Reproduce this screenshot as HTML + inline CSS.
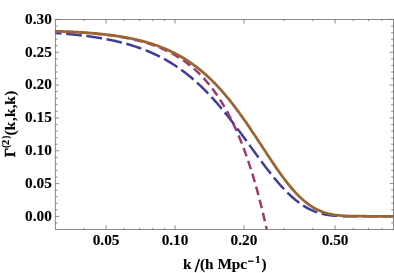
<!DOCTYPE html>
<html><head><meta charset="utf-8"><title>plot</title>
<style>
html,body{margin:0;padding:0;background:#fff;}
body{width:394px;height:273px;overflow:hidden;}
svg{display:block;}
text{font-family:"Liberation Serif",serif;font-weight:bold;font-size:15.3px;fill:#000;stroke:#000;stroke-width:0.12px;}
</style></head>
<body>
<svg width="394" height="273" viewBox="0 0 394 273">
<rect x="0" y="0" width="394" height="273" fill="#fff"/>
<defs><clipPath id="c"><rect x="55.3" y="19.5" width="338.20" height="209.90"/></clipPath></defs>
<g clip-path="url(#c)" transform="translate(0,0.25)" fill="none" stroke-width="2.5" stroke-linecap="butt" stroke-linejoin="round">
<path d="M54.00,32.66 L54.85,32.72 L55.70,32.78 L56.55,32.84 L57.40,32.91 L58.25,32.97 L59.10,33.03 L59.95,33.10 L60.80,33.17 L61.65,33.23 L62.50,33.30 L63.35,33.37 L64.21,33.44 L65.06,33.51 L65.91,33.59 L66.76,33.66 L67.61,33.74 L68.46,33.81 L69.31,33.89 L70.16,33.97 L71.01,34.05 L71.86,34.13 L72.71,34.22 L73.56,34.30 L74.41,34.39 L75.26,34.48 L76.11,34.57 L76.96,34.66 L77.81,34.75 L78.66,34.84 L79.51,34.94 L80.36,35.04 L81.21,35.14 L82.06,35.24 L82.91,35.34 L83.76,35.44 L84.62,35.55 L85.47,35.65 L86.32,35.76 L87.17,35.87 L88.02,35.99 L88.87,36.10 L89.72,36.22 L90.57,36.34 L91.42,36.46 L92.27,36.58 L93.12,36.70 L93.97,36.83 L94.82,36.96 L95.67,37.09 L96.52,37.22 L97.37,37.36 L98.22,37.50 L99.07,37.64 L99.92,37.78 L100.77,37.92 L101.62,38.07 L102.47,38.22 L103.32,38.37 L104.18,38.52 L105.03,38.68 L105.88,38.84 L106.73,39.00 L107.58,39.17 L108.43,39.33 L109.28,39.50 L110.13,39.68 L110.98,39.85 L111.83,40.03 L112.68,40.21 L113.53,40.39 L114.38,40.58 L115.23,40.77 L116.08,40.97 L116.93,41.16 L117.78,41.36 L118.63,41.57 L119.48,41.77 L120.33,41.98 L121.18,42.19 L122.03,42.41 L122.88,42.63 L123.73,42.86 L124.59,43.08 L125.44,43.31 L126.29,43.55 L127.14,43.79 L127.99,44.03 L128.84,44.27 L129.69,44.52 L130.54,44.78 L131.39,45.04 L132.24,45.30 L133.09,45.57 L133.94,45.84 L134.79,46.11 L135.64,46.39 L136.49,46.67 L137.34,46.96 L138.19,47.25 L139.04,47.55 L139.89,47.85 L140.74,48.16 L141.59,48.47 L142.44,48.79 L143.29,49.11 L144.15,49.44 L145.00,49.77 L145.85,50.10 L146.70,50.44 L147.55,50.79 L148.40,51.14 L149.25,51.50 L150.10,51.86 L150.95,52.23 L151.80,52.61 L152.65,52.99 L153.50,53.37 L154.35,53.76 L155.20,54.16 L156.05,54.56 L156.90,54.97 L157.75,55.39 L158.60,55.81 L159.45,56.24 L160.30,56.67 L161.15,57.11 L162.00,57.56 L162.85,58.01 L163.70,58.47 L164.56,58.94 L165.41,59.41 L166.26,59.89 L167.11,60.37 L167.96,60.87 L168.81,61.37 L169.66,61.88 L170.51,62.39 L171.36,62.91 L172.21,63.44 L173.06,63.98 L173.91,64.52 L174.76,65.08 L175.61,65.64 L176.46,66.20 L177.31,66.78 L178.16,67.36 L179.01,67.95 L179.86,68.55 L180.71,69.15 L181.56,69.77 L182.41,70.39 L183.26,71.02 L184.12,71.66 L184.97,72.30 L185.82,72.96 L186.67,73.62 L187.52,74.29 L188.37,74.97 L189.22,75.66 L190.07,76.36 L190.92,77.06 L191.77,77.78 L192.62,78.50 L193.47,79.23 L194.32,79.97 L195.17,80.72 L196.02,81.48 L196.87,82.24 L197.72,83.02 L198.57,83.80 L199.42,84.59 L200.27,85.39 L201.12,86.20 L201.97,87.02 L202.82,87.85 L203.67,88.69 L204.53,89.53 L205.38,90.39 L206.23,91.25 L207.08,92.12 L207.93,93.00 L208.78,93.89 L209.63,94.79 L210.48,95.70 L211.33,96.61 L212.18,97.54 L213.03,98.47 L213.88,99.41 L214.73,100.36 L215.58,101.32 L216.43,102.28 L217.28,103.26 L218.13,104.24 L218.98,105.23 L219.83,106.23 L220.68,107.23 L221.53,108.25 L222.38,109.27 L223.23,110.30 L224.09,111.34 L224.94,112.38 L225.79,113.43 L226.64,114.49 L227.49,115.56 L228.34,116.63 L229.19,117.71 L230.04,118.79 L230.89,119.88 L231.74,120.98 L232.59,122.08 L233.44,123.19 L234.29,124.30 L235.14,125.42 L235.99,126.55 L236.84,127.68 L237.69,128.81 L238.54,129.95 L239.39,131.09 L240.24,132.23 L241.09,133.38 L241.94,134.54 L242.79,135.69 L243.64,136.85 L244.50,138.01 L245.35,139.18 L246.20,140.34 L247.05,141.51 L247.90,142.68 L248.75,143.85 L249.60,145.02 L250.45,146.19 L251.30,147.36 L252.15,148.53 L253.00,149.70 L253.85,150.87 L254.70,152.04 L255.55,153.20 L256.40,154.37 L257.25,155.53 L258.10,156.69 L258.95,157.85 L259.80,159.00 L260.65,160.15 L261.50,161.29 L262.35,162.43 L263.20,163.57 L264.06,164.70 L264.91,165.83 L265.76,166.95 L266.61,168.06 L267.46,169.16 L268.31,170.26 L269.16,171.36 L270.01,172.44 L270.86,173.52 L271.71,174.58 L272.56,175.64 L273.41,176.69 L274.26,177.73 L275.11,178.76 L275.96,179.78 L276.81,180.79 L277.66,181.79 L278.51,182.77 L279.36,183.75 L280.21,184.71 L281.06,185.66 L281.91,186.60 L282.76,187.52 L283.61,188.44 L284.47,189.33 L285.32,190.22 L286.17,191.09 L287.02,191.95 L287.87,192.79 L288.72,193.62 L289.57,194.43 L290.42,195.23 L291.27,196.01 L292.12,196.78 L292.97,197.53 L293.82,198.27 L294.67,198.99 L295.52,199.69 L296.37,200.38 L297.22,201.05 L298.07,201.71 L298.92,202.34 L299.77,202.97 L300.62,203.57 L301.47,204.16 L302.32,204.73 L303.17,205.29 L304.03,205.83 L304.88,206.35 L305.73,206.86 L306.58,207.35 L307.43,207.82 L308.28,208.28 L309.13,208.72 L309.98,209.14 L310.83,209.55 L311.68,209.94 L312.53,210.32 L313.38,210.68 L314.23,211.03 L315.08,211.36 L315.93,211.67 L316.78,211.98 L317.63,212.26 L318.48,212.54 L319.33,212.79 L320.18,213.04 L321.03,213.27 L321.88,213.49 L322.73,213.70 L323.58,213.89 L324.44,214.08 L325.29,214.25 L326.14,214.41 L326.99,214.56 L327.84,214.69 L328.69,214.82 L329.54,214.94 L330.39,215.05 L331.24,215.15 L332.09,215.25 L332.94,215.33 L333.79,215.41 L334.64,215.48 L335.49,215.54 L336.34,215.60 L337.19,215.65 L338.04,215.70 L338.89,215.74 L339.74,215.78 L340.59,215.81 L341.44,215.84 L342.29,215.86 L343.14,215.89 L343.99,215.91 L344.85,215.92 L345.70,215.94 L346.55,215.95 L347.40,215.96 L348.25,215.97 L349.10,215.97 L349.95,215.98 L350.80,215.98 L351.65,215.99 L352.50,215.99 L353.35,215.99 L354.20,215.99 L355.05,216.00 L355.90,216.00 L356.75,216.00 L357.60,216.00 L358.45,216.00 L359.30,216.00 L360.15,216.00 L361.00,216.00 L361.85,216.00 L362.70,216.00 L363.55,216.00 L364.41,216.00 L365.26,216.00 L366.11,216.00 L366.96,216.00 L367.81,216.00 L368.66,216.00 L369.51,216.00 L370.36,216.00 L371.21,216.00 L372.06,216.00 L372.91,216.00 L373.76,216.00 L374.61,216.00 L375.46,216.00 L376.31,216.00 L377.16,216.00 L378.01,216.00 L378.86,216.00 L379.71,216.00 L380.56,216.00 L381.41,216.00 L382.26,216.00 L383.11,216.00 L383.96,216.00 L384.82,216.00 L385.67,216.00 L386.52,216.00 L387.37,216.00 L388.22,216.00 L389.07,216.00 L389.92,216.00 L390.77,216.00 L391.62,216.00 L392.47,216.00 L393.32,216.00" stroke="#3f3d99" stroke-dasharray="15.7 4.66" stroke-dashoffset="8.14"/>
<path d="M54.00,31.09 L54.54,31.11 L55.08,31.13 L55.62,31.15 L56.16,31.16 L56.70,31.18 L57.24,31.20 L57.78,31.22 L58.32,31.23 L58.86,31.25 L59.40,31.27 L59.94,31.29 L60.48,31.31 L61.02,31.33 L61.56,31.35 L62.10,31.37 L62.64,31.39 L63.18,31.42 L63.72,31.44 L64.27,31.46 L64.81,31.48 L65.35,31.50 L65.89,31.53 L66.43,31.55 L66.97,31.57 L67.51,31.60 L68.05,31.62 L68.59,31.65 L69.13,31.67 L69.67,31.70 L70.21,31.72 L70.75,31.75 L71.29,31.78 L71.83,31.80 L72.37,31.83 L72.91,31.86 L73.45,31.89 L73.99,31.91 L74.53,31.94 L75.07,31.97 L75.61,32.00 L76.15,32.03 L76.69,32.06 L77.23,32.09 L77.77,32.13 L78.31,32.16 L78.85,32.19 L79.39,32.22 L79.93,32.26 L80.47,32.29 L81.01,32.33 L81.55,32.36 L82.09,32.40 L82.63,32.43 L83.17,32.47 L83.71,32.51 L84.26,32.54 L84.80,32.58 L85.34,32.62 L85.88,32.66 L86.42,32.70 L86.96,32.74 L87.50,32.78 L88.04,32.82 L88.58,32.86 L89.12,32.90 L89.66,32.95 L90.20,32.99 L90.74,33.03 L91.28,33.08 L91.82,33.12 L92.36,33.17 L92.90,33.22 L93.44,33.26 L93.98,33.31 L94.52,33.36 L95.06,33.41 L95.60,33.46 L96.14,33.51 L96.68,33.56 L97.22,33.61 L97.76,33.66 L98.30,33.72 L98.84,33.77 L99.38,33.83 L99.92,33.88 L100.46,33.94 L101.00,33.99 L101.54,34.05 L102.08,34.11 L102.62,34.17 L103.16,34.23 L103.70,34.29 L104.25,34.35 L104.79,34.41 L105.33,34.48 L105.87,34.54 L106.41,34.61 L106.95,34.67 L107.49,34.74 L108.03,34.81 L108.57,34.87 L109.11,34.94 L109.65,35.01 L110.19,35.08 L110.73,35.16 L111.27,35.23 L111.81,35.30 L112.35,35.38 L112.89,35.45 L113.43,35.53 L113.97,35.61 L114.51,35.69 L115.05,35.77 L115.59,35.85 L116.13,35.93 L116.67,36.01 L117.21,36.10 L117.75,36.18 L118.29,36.27 L118.83,36.35 L119.37,36.44 L119.91,36.53 L120.45,36.62 L120.99,36.71 L121.53,36.81 L122.07,36.90 L122.61,37.00 L123.15,37.09 L123.69,37.19 L124.24,37.29 L124.78,37.39 L125.32,37.49 L125.86,37.59 L126.40,37.70 L126.94,37.80 L127.48,37.91 L128.02,38.02 L128.56,38.13 L129.10,38.24 L129.64,38.35 L130.18,38.46 L130.72,38.58 L131.26,38.69 L131.80,38.81 L132.34,38.93 L132.88,39.05 L133.42,39.17 L133.96,39.30 L134.50,39.42 L135.04,39.55 L135.58,39.68 L136.12,39.81 L136.66,39.94 L137.20,40.07 L137.74,40.21 L138.28,40.34 L138.82,40.48 L139.36,40.62 L139.90,40.76 L140.44,40.91 L140.98,41.05 L141.52,41.20 L142.06,41.35 L142.60,41.50 L143.14,41.65 L143.68,41.81 L144.23,41.96 L144.77,42.12 L145.31,42.28 L145.85,42.44 L146.39,42.61 L146.93,42.77 L147.47,42.94 L148.01,43.11 L148.55,43.28 L149.09,43.46 L149.63,43.64 L150.17,43.81 L150.71,44.00 L151.25,44.18 L151.79,44.36 L152.33,44.55 L152.87,44.74 L153.41,44.93 L153.95,45.13 L154.49,45.33 L155.03,45.52 L155.57,45.73 L156.11,45.93 L156.65,46.14 L157.19,46.35 L157.73,46.56 L158.27,46.77 L158.81,46.99 L159.35,47.21 L159.89,47.43 L160.43,47.66 L160.97,47.88 L161.51,48.11 L162.05,48.35 L162.59,48.58 L163.13,48.82 L163.67,49.06 L164.22,49.31 L164.76,49.56 L165.30,49.81 L165.84,50.06 L166.38,50.32 L166.92,50.58 L167.46,50.84 L168.00,51.11 L168.54,51.37 L169.08,51.65 L169.62,51.92 L170.16,52.20 L170.70,52.48 L171.24,52.77 L171.78,53.06 L172.32,53.35 L172.86,53.65 L173.40,53.95 L173.94,54.25 L174.48,54.56 L175.02,54.87 L175.56,55.18 L176.10,55.50 L176.64,55.82 L177.18,56.15 L177.72,56.48 L178.26,56.81 L178.80,57.15 L179.34,57.49 L179.88,57.84 L180.42,58.19 L180.96,58.54 L181.50,58.90 L182.04,59.26 L182.58,59.63 L183.12,60.00 L183.66,60.38 L184.21,60.76 L184.75,61.14 L185.29,61.53 L185.83,61.93 L186.37,62.33 L186.91,62.73 L187.45,63.14 L187.99,63.55 L188.53,63.97 L189.07,64.39 L189.61,64.82 L190.15,65.26 L190.69,65.69 L191.23,66.14 L191.77,66.59 L192.31,67.04 L192.85,67.50 L193.39,67.97 L193.93,68.44 L194.47,68.92 L195.01,69.40 L195.55,69.89 L196.09,70.38 L196.63,70.88 L197.17,71.39 L197.71,71.90 L198.25,72.42 L198.79,72.94 L199.33,73.47 L199.87,74.01 L200.41,74.55 L200.95,75.10 L201.49,75.66 L202.03,76.22 L202.57,76.79 L203.11,77.37 L203.65,77.95 L204.20,78.54 L204.74,79.14 L205.28,79.75 L205.82,80.36 L206.36,80.98 L206.90,81.61 L207.44,82.24 L207.98,82.88 L208.52,83.53 L209.06,84.19 L209.60,84.85 L210.14,85.53 L210.68,86.21 L211.22,86.90 L211.76,87.60 L212.30,88.30 L212.84,89.02 L213.38,89.74 L213.92,90.47 L214.46,91.22 L215.00,91.97 L215.54,92.72 L216.08,93.49 L216.62,94.27 L217.16,95.06 L217.70,95.85 L218.24,96.66 L218.78,97.47 L219.32,98.30 L219.86,99.14 L220.40,99.98 L220.94,100.84 L221.48,101.70 L222.02,102.58 L222.56,103.47 L223.10,104.37 L223.64,105.27 L224.19,106.19 L224.73,107.13 L225.27,108.07 L225.81,109.02 L226.35,109.99 L226.89,110.96 L227.43,111.95 L227.97,112.95 L228.51,113.97 L229.05,114.99 L229.59,116.03 L230.13,117.08 L230.67,118.15 L231.21,119.22 L231.75,120.31 L232.29,121.42 L232.83,122.53 L233.37,123.66 L233.91,124.81 L234.45,125.97 L234.99,127.14 L235.53,128.33 L236.07,129.53 L236.61,130.75 L237.15,131.98 L237.69,133.22 L238.23,134.49 L238.77,135.76 L239.31,137.06 L239.85,138.37 L240.39,139.69 L240.93,141.03 L241.47,142.39 L242.01,143.77 L242.55,145.16 L243.09,146.57 L243.63,148.00 L244.18,149.44 L244.72,150.91 L245.26,152.39 L245.80,153.89 L246.34,155.41 L246.88,156.95 L247.42,158.50 L247.96,160.08 L248.50,161.68 L249.04,163.29 L249.58,164.93 L250.12,166.59 L250.66,168.27 L251.20,169.97 L251.74,171.69 L252.28,173.43 L252.82,175.20 L253.36,176.98 L253.90,178.79 L254.44,180.63 L254.98,182.48 L255.52,184.36 L256.06,186.27 L256.60,188.20 L257.14,190.15 L257.68,192.13 L258.22,194.13 L258.76,196.16 L259.30,198.21 L259.84,200.30 L260.38,202.40 L260.92,204.54 L261.46,206.70 L262.00,208.89 L262.54,211.11 L263.08,213.36 L263.62,215.64 L264.17,217.95 L264.71,220.28 L265.25,222.65 L265.79,225.05 L266.33,227.48 L266.87,229.94 L267.41,232.43 L267.95,234.96" stroke="#993d71" stroke-dasharray="8.7 4.82" stroke-dashoffset="0.86"/>
<path d="M54.00,30.94 L54.85,30.96 L55.70,30.99 L56.55,31.02 L57.40,31.05 L58.25,31.08 L59.10,31.11 L59.95,31.14 L60.80,31.17 L61.65,31.20 L62.50,31.23 L63.35,31.27 L64.21,31.30 L65.06,31.34 L65.91,31.37 L66.76,31.41 L67.61,31.45 L68.46,31.49 L69.31,31.53 L70.16,31.57 L71.01,31.61 L71.86,31.65 L72.71,31.69 L73.56,31.74 L74.41,31.78 L75.26,31.83 L76.11,31.87 L76.96,31.92 L77.81,31.97 L78.66,32.02 L79.51,32.07 L80.36,32.12 L81.21,32.18 L82.06,32.23 L82.91,32.29 L83.76,32.34 L84.62,32.40 L85.47,32.46 L86.32,32.52 L87.17,32.58 L88.02,32.64 L88.87,32.71 L89.72,32.77 L90.57,32.84 L91.42,32.91 L92.27,32.98 L93.12,33.05 L93.97,33.12 L94.82,33.20 L95.67,33.27 L96.52,33.35 L97.37,33.43 L98.22,33.51 L99.07,33.59 L99.92,33.68 L100.77,33.76 L101.62,33.85 L102.47,33.94 L103.32,34.03 L104.18,34.12 L105.03,34.22 L105.88,34.31 L106.73,34.41 L107.58,34.51 L108.43,34.62 L109.28,34.72 L110.13,34.83 L110.98,34.94 L111.83,35.05 L112.68,35.16 L113.53,35.28 L114.38,35.39 L115.23,35.51 L116.08,35.64 L116.93,35.76 L117.78,35.89 L118.63,36.02 L119.48,36.15 L120.33,36.29 L121.18,36.42 L122.03,36.57 L122.88,36.71 L123.73,36.85 L124.59,37.00 L125.44,37.15 L126.29,37.31 L127.14,37.47 L127.99,37.63 L128.84,37.79 L129.69,37.96 L130.54,38.13 L131.39,38.30 L132.24,38.48 L133.09,38.66 L133.94,38.84 L134.79,39.03 L135.64,39.22 L136.49,39.41 L137.34,39.61 L138.19,39.81 L139.04,40.02 L139.89,40.23 L140.74,40.44 L141.59,40.66 L142.44,40.88 L143.29,41.10 L144.15,41.33 L145.00,41.57 L145.85,41.80 L146.70,42.05 L147.55,42.29 L148.40,42.54 L149.25,42.80 L150.10,43.06 L150.95,43.33 L151.80,43.60 L152.65,43.87 L153.50,44.15 L154.35,44.44 L155.20,44.73 L156.05,45.02 L156.90,45.32 L157.75,45.63 L158.60,45.94 L159.45,46.26 L160.30,46.58 L161.15,46.91 L162.00,47.24 L162.85,47.58 L163.70,47.93 L164.56,48.28 L165.41,48.64 L166.26,49.00 L167.11,49.37 L167.96,49.75 L168.81,50.13 L169.66,50.52 L170.51,50.92 L171.36,51.32 L172.21,51.73 L173.06,52.15 L173.91,52.58 L174.76,53.01 L175.61,53.45 L176.46,53.89 L177.31,54.35 L178.16,54.81 L179.01,55.28 L179.86,55.75 L180.71,56.24 L181.56,56.73 L182.41,57.23 L183.26,57.74 L184.12,58.25 L184.97,58.78 L185.82,59.31 L186.67,59.85 L187.52,60.40 L188.37,60.96 L189.22,61.53 L190.07,62.11 L190.92,62.69 L191.77,63.29 L192.62,63.89 L193.47,64.50 L194.32,65.12 L195.17,65.76 L196.02,66.40 L196.87,67.05 L197.72,67.71 L198.57,68.38 L199.42,69.06 L200.27,69.75 L201.12,70.44 L201.97,71.15 L202.82,71.87 L203.67,72.60 L204.53,73.34 L205.38,74.09 L206.23,74.85 L207.08,75.62 L207.93,76.40 L208.78,77.20 L209.63,78.00 L210.48,78.81 L211.33,79.64 L212.18,80.47 L213.03,81.31 L213.88,82.17 L214.73,83.04 L215.58,83.91 L216.43,84.80 L217.28,85.70 L218.13,86.61 L218.98,87.53 L219.83,88.46 L220.68,89.41 L221.53,90.36 L222.38,91.32 L223.23,92.30 L224.09,93.28 L224.94,94.28 L225.79,95.29 L226.64,96.31 L227.49,97.33 L228.34,98.37 L229.19,99.42 L230.04,100.48 L230.89,101.55 L231.74,102.63 L232.59,103.72 L233.44,104.82 L234.29,105.93 L235.14,107.05 L235.99,108.18 L236.84,109.31 L237.69,110.46 L238.54,111.62 L239.39,112.78 L240.24,113.96 L241.09,115.14 L241.94,116.33 L242.79,117.53 L243.64,118.74 L244.50,119.95 L245.35,121.17 L246.20,122.40 L247.05,123.64 L247.90,124.88 L248.75,126.13 L249.60,127.38 L250.45,128.64 L251.30,129.91 L252.15,131.18 L253.00,132.45 L253.85,133.73 L254.70,135.01 L255.55,136.30 L256.40,137.59 L257.25,138.88 L258.10,140.18 L258.95,141.47 L259.80,142.77 L260.65,144.07 L261.50,145.37 L262.35,146.67 L263.20,147.97 L264.06,149.27 L264.91,150.57 L265.76,151.87 L266.61,153.17 L267.46,154.46 L268.31,155.75 L269.16,157.03 L270.01,158.31 L270.86,159.59 L271.71,160.86 L272.56,162.13 L273.41,163.39 L274.26,164.64 L275.11,165.89 L275.96,167.13 L276.81,168.36 L277.66,169.58 L278.51,170.79 L279.36,171.99 L280.21,173.18 L281.06,174.36 L281.91,175.53 L282.76,176.69 L283.61,177.84 L284.47,178.97 L285.32,180.09 L286.17,181.19 L287.02,182.28 L287.87,183.36 L288.72,184.42 L289.57,185.47 L290.42,186.50 L291.27,187.51 L292.12,188.51 L292.97,189.49 L293.82,190.45 L294.67,191.39 L295.52,192.32 L296.37,193.22 L297.22,194.11 L298.07,194.98 L298.92,195.83 L299.77,196.67 L300.62,197.48 L301.47,198.27 L302.32,199.04 L303.17,199.79 L304.03,200.53 L304.88,201.24 L305.73,201.93 L306.58,202.60 L307.43,203.25 L308.28,203.88 L309.13,204.50 L309.98,205.09 L310.83,205.66 L311.68,206.21 L312.53,206.74 L313.38,207.25 L314.23,207.75 L315.08,208.22 L315.93,208.68 L316.78,209.11 L317.63,209.53 L318.48,209.93 L319.33,210.31 L320.18,210.68 L321.03,211.03 L321.88,211.36 L322.73,211.67 L323.58,211.97 L324.44,212.26 L325.29,212.53 L326.14,212.78 L326.99,213.02 L327.84,213.25 L328.69,213.46 L329.54,213.66 L330.39,213.85 L331.24,214.03 L332.09,214.19 L332.94,214.35 L333.79,214.49 L334.64,214.63 L335.49,214.75 L336.34,214.87 L337.19,214.97 L338.04,215.07 L338.89,215.16 L339.74,215.25 L340.59,215.32 L341.44,215.40 L342.29,215.46 L343.14,215.52 L343.99,215.57 L344.85,215.62 L345.70,215.66 L346.55,215.70 L347.40,215.74 L348.25,215.77 L349.10,215.80 L349.95,215.83 L350.80,215.85 L351.65,215.87 L352.50,215.89 L353.35,215.90 L354.20,215.92 L355.05,215.93 L355.90,215.94 L356.75,215.95 L357.60,215.96 L358.45,215.96 L359.30,215.97 L360.15,215.97 L361.00,215.98 L361.85,215.98 L362.70,215.99 L363.55,215.99 L364.41,215.99 L365.26,215.99 L366.11,215.99 L366.96,216.00 L367.81,216.00 L368.66,216.00 L369.51,216.00 L370.36,216.00 L371.21,216.00 L372.06,216.00 L372.91,216.00 L373.76,216.00 L374.61,216.00 L375.46,216.00 L376.31,216.00 L377.16,216.00 L378.01,216.00 L378.86,216.00 L379.71,216.00 L380.56,216.00 L381.41,216.00 L382.26,216.00 L383.11,216.00 L383.96,216.00 L384.82,216.00 L385.67,216.00 L386.52,216.00 L387.37,216.00 L388.22,216.00 L389.07,216.00 L389.92,216.00 L390.77,216.00 L391.62,216.00 L392.47,216.00 L393.32,216.00" stroke="#996633" stroke-width="2.75"/>
</g>
<g stroke="#6e6e6e" stroke-width="0.8" fill="none">
<rect x="55.3" y="19.5" width="338.20" height="209.90"/>
<line x1="106.09" x2="106.09" y1="229.4" y2="225.4"/>
<line x1="106.09" x2="106.09" y1="19.5" y2="23.5"/>
<line x1="175.02" x2="175.02" y1="229.4" y2="225.4"/>
<line x1="175.02" x2="175.02" y1="19.5" y2="23.5"/>
<line x1="243.94" x2="243.94" y1="229.4" y2="225.4"/>
<line x1="243.94" x2="243.94" y1="19.5" y2="23.5"/>
<line x1="335.05" x2="335.05" y1="229.4" y2="225.4"/>
<line x1="335.05" x2="335.05" y1="19.5" y2="23.5"/>
<line x1="83.91" x2="83.91" y1="229.4" y2="227.9"/>
<line x1="83.91" x2="83.91" y1="19.5" y2="21.0"/>
<line x1="124.22" x2="124.22" y1="229.4" y2="227.9"/>
<line x1="124.22" x2="124.22" y1="19.5" y2="21.0"/>
<line x1="139.55" x2="139.55" y1="229.4" y2="227.9"/>
<line x1="139.55" x2="139.55" y1="19.5" y2="21.0"/>
<line x1="152.83" x2="152.83" y1="229.4" y2="227.9"/>
<line x1="152.83" x2="152.83" y1="19.5" y2="21.0"/>
<line x1="164.54" x2="164.54" y1="229.4" y2="227.9"/>
<line x1="164.54" x2="164.54" y1="19.5" y2="21.0"/>
<line x1="284.26" x2="284.26" y1="229.4" y2="227.9"/>
<line x1="284.26" x2="284.26" y1="19.5" y2="21.0"/>
<line x1="312.87" x2="312.87" y1="229.4" y2="227.9"/>
<line x1="312.87" x2="312.87" y1="19.5" y2="21.0"/>
<line x1="353.18" x2="353.18" y1="229.4" y2="227.9"/>
<line x1="353.18" x2="353.18" y1="19.5" y2="21.0"/>
<line x1="368.51" x2="368.51" y1="229.4" y2="227.9"/>
<line x1="368.51" x2="368.51" y1="19.5" y2="21.0"/>
<line x1="381.79" x2="381.79" y1="229.4" y2="227.9"/>
<line x1="381.79" x2="381.79" y1="19.5" y2="21.0"/>
<line x1="55.3" x2="57.599999999999994" y1="229.53" y2="229.53"/>
<line x1="393.5" x2="391.2" y1="229.53" y2="229.53"/>
<line x1="55.3" x2="57.599999999999994" y1="222.96" y2="222.96"/>
<line x1="393.5" x2="391.2" y1="222.96" y2="222.96"/>
<line x1="55.3" x2="59.099999999999994" y1="216.40" y2="216.40"/>
<line x1="393.5" x2="389.7" y1="216.40" y2="216.40"/>
<line x1="55.3" x2="57.599999999999994" y1="209.84" y2="209.84"/>
<line x1="393.5" x2="391.2" y1="209.84" y2="209.84"/>
<line x1="55.3" x2="57.599999999999994" y1="203.27" y2="203.27"/>
<line x1="393.5" x2="391.2" y1="203.27" y2="203.27"/>
<line x1="55.3" x2="57.599999999999994" y1="196.71" y2="196.71"/>
<line x1="393.5" x2="391.2" y1="196.71" y2="196.71"/>
<line x1="55.3" x2="57.599999999999994" y1="190.14" y2="190.14"/>
<line x1="393.5" x2="391.2" y1="190.14" y2="190.14"/>
<line x1="55.3" x2="59.099999999999994" y1="183.58" y2="183.58"/>
<line x1="393.5" x2="389.7" y1="183.58" y2="183.58"/>
<line x1="55.3" x2="57.599999999999994" y1="177.02" y2="177.02"/>
<line x1="393.5" x2="391.2" y1="177.02" y2="177.02"/>
<line x1="55.3" x2="57.599999999999994" y1="170.45" y2="170.45"/>
<line x1="393.5" x2="391.2" y1="170.45" y2="170.45"/>
<line x1="55.3" x2="57.599999999999994" y1="163.89" y2="163.89"/>
<line x1="393.5" x2="391.2" y1="163.89" y2="163.89"/>
<line x1="55.3" x2="57.599999999999994" y1="157.32" y2="157.32"/>
<line x1="393.5" x2="391.2" y1="157.32" y2="157.32"/>
<line x1="55.3" x2="59.099999999999994" y1="150.76" y2="150.76"/>
<line x1="393.5" x2="389.7" y1="150.76" y2="150.76"/>
<line x1="55.3" x2="57.599999999999994" y1="144.20" y2="144.20"/>
<line x1="393.5" x2="391.2" y1="144.20" y2="144.20"/>
<line x1="55.3" x2="57.599999999999994" y1="137.63" y2="137.63"/>
<line x1="393.5" x2="391.2" y1="137.63" y2="137.63"/>
<line x1="55.3" x2="57.599999999999994" y1="131.07" y2="131.07"/>
<line x1="393.5" x2="391.2" y1="131.07" y2="131.07"/>
<line x1="55.3" x2="57.599999999999994" y1="124.50" y2="124.50"/>
<line x1="393.5" x2="391.2" y1="124.50" y2="124.50"/>
<line x1="55.3" x2="59.099999999999994" y1="117.94" y2="117.94"/>
<line x1="393.5" x2="389.7" y1="117.94" y2="117.94"/>
<line x1="55.3" x2="57.599999999999994" y1="111.38" y2="111.38"/>
<line x1="393.5" x2="391.2" y1="111.38" y2="111.38"/>
<line x1="55.3" x2="57.599999999999994" y1="104.81" y2="104.81"/>
<line x1="393.5" x2="391.2" y1="104.81" y2="104.81"/>
<line x1="55.3" x2="57.599999999999994" y1="98.25" y2="98.25"/>
<line x1="393.5" x2="391.2" y1="98.25" y2="98.25"/>
<line x1="55.3" x2="57.599999999999994" y1="91.68" y2="91.68"/>
<line x1="393.5" x2="391.2" y1="91.68" y2="91.68"/>
<line x1="55.3" x2="59.099999999999994" y1="85.12" y2="85.12"/>
<line x1="393.5" x2="389.7" y1="85.12" y2="85.12"/>
<line x1="55.3" x2="57.599999999999994" y1="78.56" y2="78.56"/>
<line x1="393.5" x2="391.2" y1="78.56" y2="78.56"/>
<line x1="55.3" x2="57.599999999999994" y1="71.99" y2="71.99"/>
<line x1="393.5" x2="391.2" y1="71.99" y2="71.99"/>
<line x1="55.3" x2="57.599999999999994" y1="65.43" y2="65.43"/>
<line x1="393.5" x2="391.2" y1="65.43" y2="65.43"/>
<line x1="55.3" x2="57.599999999999994" y1="58.86" y2="58.86"/>
<line x1="393.5" x2="391.2" y1="58.86" y2="58.86"/>
<line x1="55.3" x2="59.099999999999994" y1="52.30" y2="52.30"/>
<line x1="393.5" x2="389.7" y1="52.30" y2="52.30"/>
<line x1="55.3" x2="57.599999999999994" y1="45.74" y2="45.74"/>
<line x1="393.5" x2="391.2" y1="45.74" y2="45.74"/>
<line x1="55.3" x2="57.599999999999994" y1="39.17" y2="39.17"/>
<line x1="393.5" x2="391.2" y1="39.17" y2="39.17"/>
<line x1="55.3" x2="57.599999999999994" y1="32.61" y2="32.61"/>
<line x1="393.5" x2="391.2" y1="32.61" y2="32.61"/>
<line x1="55.3" x2="57.599999999999994" y1="26.04" y2="26.04"/>
<line x1="393.5" x2="391.2" y1="26.04" y2="26.04"/>
<line x1="55.3" x2="59.099999999999994" y1="19.48" y2="19.48"/>
<line x1="393.5" x2="389.7" y1="19.48" y2="19.48"/>
</g>
<g style="filter:grayscale(1)">
<text x="106.09" y="244.5" text-anchor="middle">0.05</text>
<text x="175.02" y="244.5" text-anchor="middle">0.10</text>
<text x="243.94" y="244.5" text-anchor="middle">0.20</text>
<text x="335.05" y="244.5" text-anchor="middle">0.50</text>
<text x="51.9" y="220.70" text-anchor="end">0.00</text>
<text x="51.9" y="187.88" text-anchor="end">0.05</text>
<text x="51.9" y="155.06" text-anchor="end">0.10</text>
<text x="51.9" y="122.24" text-anchor="end">0.15</text>
<text x="51.9" y="89.42" text-anchor="end">0.20</text>
<text x="51.9" y="56.60" text-anchor="end">0.25</text>
<text x="51.9" y="23.78" text-anchor="end">0.30</text>
<text x="182.9" y="268.6">k</text>
<line x1="195.2" y1="272.1" x2="199.4" y2="259.0" stroke="#000" stroke-width="1.5"/>
<text x="200.0" y="268.6">(h Mpc</text>
<rect x="247.9" y="260.6" width="5.7" height="1.25" fill="#000"/>
<text x="255.0" y="262.9" style="font-size:11.3px">1</text>
<text x="261.5" y="268.6">)</text>
<g transform="translate(14.6,157.4) rotate(-90)">
<text transform="translate(0.3,0) scale(0.93,1)" x="0" y="0" style="stroke-width:0.45px">Γ</text>
<text transform="translate(9.75,-5.5) scale(0.8,1)" x="0" y="0" style="font-size:11.3px">(</text>
<text x="12.05" y="-5.5" style="font-size:11px">2</text>
<text transform="translate(18.55,-5.5) scale(0.8,1)" x="0" y="0" style="font-size:11.3px">)</text>
<text x="22.0 27.2 36.45 40.3 49.2 52.7 61.7" y="0">(k,k,k)</text>
</g>
</g>
</svg>
</body></html>
